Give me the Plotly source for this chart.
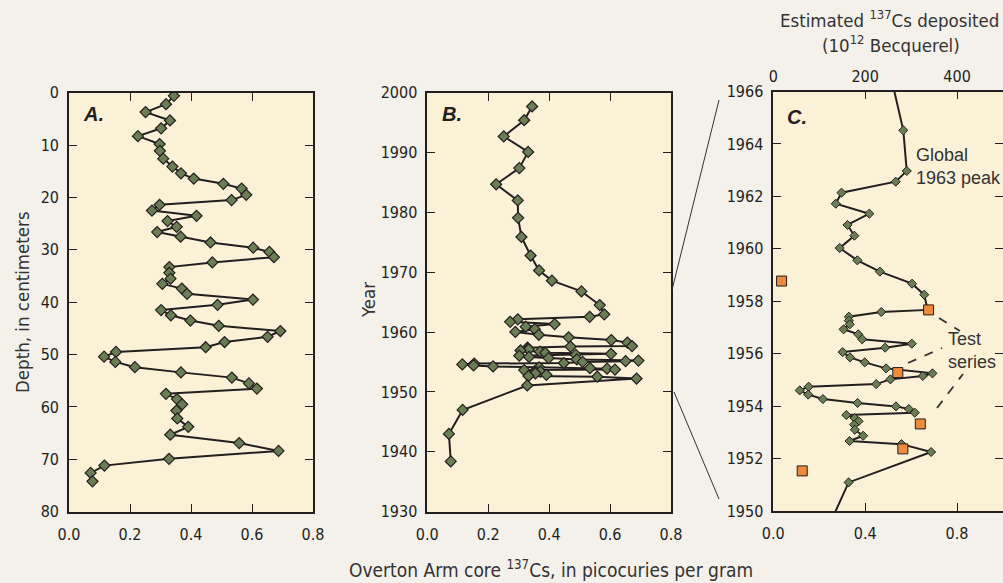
import plotly.graph_objects as go

# ---- data ----
cs_values = [0.344, 0.318, 0.251, 0.331, 0.302, 0.226, 0.297, 0.298, 0.309, 0.339,
             0.367, 0.409, 0.506, 0.566, 0.581, 0.533, 0.297, 0.272, 0.418, 0.323,
             0.353, 0.289, 0.366, 0.464, 0.604, 0.657, 0.672, 0.470, 0.329, 0.329,
             0.333, 0.306, 0.370, 0.387, 0.603, 0.487, 0.302, 0.334, 0.398, 0.491,
             0.693, 0.651, 0.510, 0.448, 0.154, 0.115, 0.152, 0.216, 0.367, 0.534,
             0.590, 0.616, 0.318, 0.354, 0.371, 0.352, 0.355, 0.391, 0.332, 0.558,
             0.687, 0.328, 0.116, 0.071, 0.077]
depth_cm = [0.6, 2.2, 3.7, 5.3, 6.8, 8.3, 9.8, 11.1, 12.6, 14.1,
            15.4, 16.4, 17.4, 18.3, 19.5, 20.5, 21.4, 22.5, 23.5, 24.5,
            25.6, 26.6, 27.5, 28.6, 29.6, 30.4, 31.4, 32.4, 33.3, 34.4,
            35.5, 36.5, 37.4, 38.4, 39.5, 40.5, 41.5, 42.5, 43.5, 44.5,
            45.5, 46.6, 47.6, 48.6, 49.5, 50.4, 51.4, 52.4, 53.4, 54.4,
            55.5, 56.5, 57.5, 58.5, 59.5, 60.7, 62.2, 63.8, 65.3, 66.9,
            68.4, 69.9, 71.2, 72.6, 74.2]
years = [1997.7, 1995.4, 1992.7, 1990.1, 1987.4, 1984.7, 1982.0, 1979.1, 1975.9, 1972.8,
         1970.3, 1968.6, 1966.8, 1964.52, 1962.97, 1962.56, 1962.14, 1961.72, 1961.34, 1960.91,
         1960.50, 1960.03, 1959.56, 1959.13, 1958.67, 1958.25, 1957.67, 1957.59, 1957.41, 1957.26,
         1957.12, 1956.93, 1956.74, 1956.55, 1956.38, 1956.23, 1956.06, 1955.86, 1955.67, 1955.44,
         1955.25, 1955.15, 1955.02, 1954.84, 1954.74, 1954.60, 1954.44, 1954.27, 1954.12, 1953.99,
         1953.89, 1953.75, 1953.66, 1953.54, 1953.42, 1953.29, 1953.10, 1952.87, 1952.67, 1952.55,
         1952.25, 1951.09, 1947.0, 1943.0, 1938.4]
test_years = [1958.77, 1957.67, 1955.28, 1953.32, 1952.37, 1951.53]
test_tbq = [18, 338, 271, 320, 282, 63]

W, H = 1003, 583
OLIVE = "#6b7d52"
DARK = "#231f20"
ORANGE = "#ee8a3c"
PLOTBG = "#faf1d7"
PAGEBG = "#f4f0ea"
FONT = "Liberation Sans Narrow, Arial Narrow, DejaVu Sans Condensed, Roboto Condensed, Roboto, sans-serif"
SANS = "Liberation Sans, Arial, Helvetica, sans-serif"


def px(x):
    return x / W


def py(y):
    return 1 - y / H


fig = go.Figure()

mk = dict(symbol="diamond", size=8.5, color=OLIVE, line=dict(color=DARK, width=1.2))
fig.add_trace(go.Scatter(x=cs_values, y=depth_cm, mode="lines+markers",
                         line=dict(color=DARK, width=2), marker=mk,
                         xaxis="x", yaxis="y", showlegend=False))
fig.add_trace(go.Scatter(x=cs_values, y=years, mode="lines+markers",
                         line=dict(color=DARK, width=2), marker=mk,
                         xaxis="x2", yaxis="y2", showlegend=False))
mkc = dict(symbol="diamond", size=7, color=OLIVE, line=dict(color=DARK, width=1))
fig.add_trace(go.Scatter(x=cs_values, y=years, mode="lines+markers",
                         line=dict(color=DARK, width=2), marker=mkc,
                         xaxis="x3", yaxis="y3", showlegend=False))
fig.add_trace(go.Scatter(x=test_tbq, y=test_years, mode="markers",
                         marker=dict(symbol="square", size=10, color=ORANGE,
                                     line=dict(color=DARK, width=1)),
                         xaxis="x4", yaxis="y3", showlegend=False))

tickfont = dict(family=FONT, size=16, color=DARK)
axcommon = dict(showgrid=False, zeroline=False, showline=True, linecolor=DARK,
                linewidth=1.6, mirror="ticks", ticks="inside", ticklen=8,
                tickcolor=DARK, tickwidth=1.3, tickfont=tickfont, automargin=False)
xcommon = dict(ticklabelstandoff=7, **axcommon)
ycommon = dict(ticklabelstandoff=5, **axcommon)

yd_ab = [py(511.7), py(92.7)]
fig.update_layout(
    width=W, height=H, autosize=False,
    margin=dict(l=0, r=0, t=0, b=0, pad=0),
    font=dict(family=FONT, color=DARK),
    paper_bgcolor=PAGEBG, plot_bgcolor=PLOTBG,
    xaxis=dict(domain=[px(69), px(313)], range=[0, 0.8], dtick=0.2, tickformat=".1f",
               anchor="y", **xcommon),
    yaxis=dict(domain=yd_ab, range=[80, 0], dtick=10, anchor="x", **ycommon),
    xaxis2=dict(domain=[px(427.3), px(671)], range=[0, 0.8], dtick=0.2, tickformat=".1f",
                anchor="y2", **xcommon),
    yaxis2=dict(domain=yd_ab, range=[1930, 2000], dtick=10, anchor="x2", **ycommon),
    xaxis3=dict(domain=[px(773.3), 1.0], range=[0, 1.0], tickvals=[0, 0.4, 0.8],
                tickformat=".1f", anchor="y3", **xcommon),
    yaxis3=dict(domain=[py(511), py(91.5)], range=[1950, 1966], dtick=2, anchor="x3",
                **ycommon),
    xaxis4=dict(overlaying="x3", side="top", range=[0, 500], tickvals=[0, 200, 400],
                anchor="y3", showgrid=False, zeroline=False, showline=False,
                ticks="", tickfont=tickfont, ticklabelstandoff=5, automargin=False),
)

ann = []
txt = dict(family=FONT, size=18.5, color="#333333")
base = dict(xref="paper", yref="paper", showarrow=False, xanchor="center", yanchor="middle")
ann.append(dict(x=px(22), y=py(302), text="Depth, in centimeters", textangle=-90,
                font=txt, **base))
ann.append(dict(x=px(368), y=py(300), text="Year", textangle=-90, font=txt, **base))
ann.append(dict(x=px(551), y=py(569),
                text="Overton Arm core <sup>137</sup>Cs, in picocuries per gram",
                font=dict(family=FONT, size=19, color="#333333"), **base))
ann.append(dict(x=px(889), y=py(19), text="Estimated <sup>137</sup>Cs deposited",
                font=txt, **base))
ann.append(dict(x=px(891), y=py(44), text="(10<sup>12</sup> Becquerel)",
                font=txt, **base))
pl = dict(family=SANS, size=20, color=DARK)
lbase = dict(xref="paper", yref="paper", showarrow=False, xanchor="left", yanchor="middle")
for lbl, xx, yy in [("A.", 81, 114), ("B.", 440, 114), ("C.", 785, 117)]:
    ann.append(dict(x=px(xx), y=py(yy), text="<b><i>" + lbl + "</i></b>", font=pl, **lbase))
nf = dict(family=SANS, size=18, color="#333333")
ann.append(dict(x=px(914), y=py(166), text="Global<br>1963 peak", align="left",
                font=nf, **lbase))
ann.append(dict(x=px(946), y=py(351), text="Test<br>series", align="left",
                font=nf, **lbase))
fig.update_layout(annotations=ann)

shapes = []
for (x0, y0, x1, y1) in [(672, 290, 719, 100), (674, 392, 719, 499)]:
    shapes.append(dict(type="line", xref="paper", yref="paper",
                       x0=px(x0), y0=py(y0), x1=px(x1), y1=py(y1),
                       line=dict(color="#333333", width=1)))
for (x0, y0, x1, y1) in [(939, 318, 960, 331), (908, 363, 942, 348), (937, 408, 963, 374)]:
    shapes.append(dict(type="line", xref="paper", yref="paper",
                       x0=px(x0), y0=py(y0), x1=px(x1), y1=py(y1),
                       line=dict(color="#333333", width=1.8, dash="dash")))
fig.update_layout(shapes=shapes)

fig.write_html("out.html", config={"displayModeBar": False},
               post_script="document.body.style.margin='0';"
                           "document.body.style.background='" + PAGEBG + "';")
